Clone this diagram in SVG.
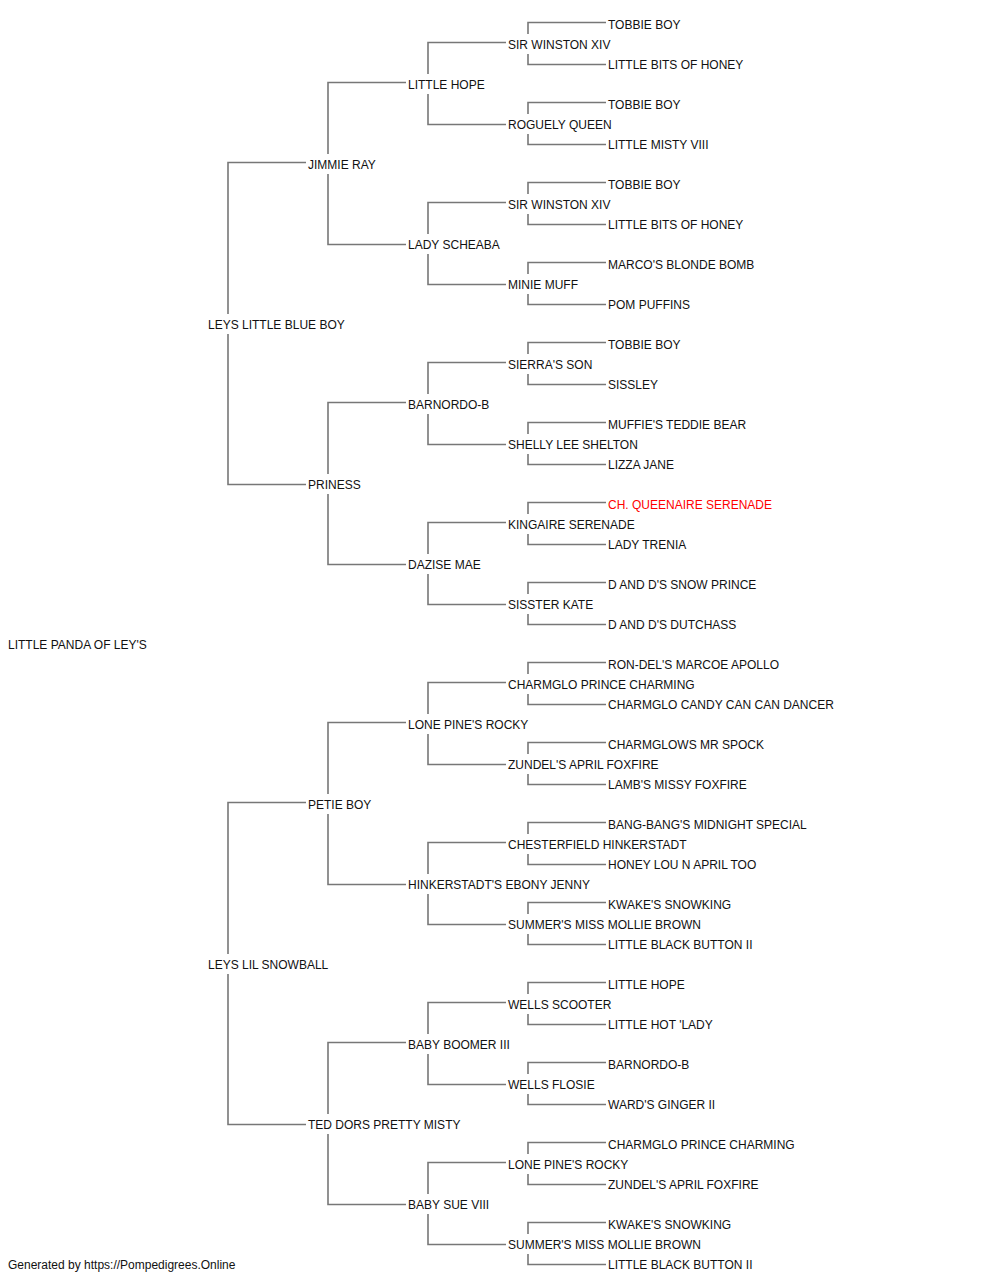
<svg xmlns="http://www.w3.org/2000/svg" width="1000" height="1280" viewBox="0 0 1000 1280">
<style>
text{font-family:"Liberation Sans",Arial,sans-serif;font-size:12px;fill:#111}
text.red{fill:#ff0000}
.c path{fill:none;stroke:#777;stroke-width:1.6}
</style>
<rect width="1000" height="1280" fill="#fff"/>
<g class="c" id="connectors">
<path d="M306,162.5 H228 V314 M228,334 V484.5 H306"/>
<path d="M306,802.5 H228 V954 M228,974 V1124.5 H306"/>
<path d="M406,82.5 H328 V154 M328,174 V244.5 H406"/>
<path d="M406,402.5 H328 V474 M328,494 V564.5 H406"/>
<path d="M406,722.5 H328 V794 M328,814 V884.5 H406"/>
<path d="M406,1042.5 H328 V1114 M328,1134 V1204.5 H406"/>
<path d="M506,42.5 H428 V74 M428,94 V124.5 H506"/>
<path d="M506,202.5 H428 V234 M428,254 V284.5 H506"/>
<path d="M506,362.5 H428 V394 M428,414 V444.5 H506"/>
<path d="M506,522.5 H428 V554 M428,574 V604.5 H506"/>
<path d="M506,682.5 H428 V714 M428,734 V764.5 H506"/>
<path d="M506,842.5 H428 V874 M428,894 V924.5 H506"/>
<path d="M506,1002.5 H428 V1034 M428,1054 V1084.5 H506"/>
<path d="M506,1162.5 H428 V1194 M428,1214 V1244.5 H506"/>
<path d="M606,22.5 H528 V34 M528,54 V64.5 H606"/>
<path d="M606,102.5 H528 V114 M528,134 V144.5 H606"/>
<path d="M606,182.5 H528 V194 M528,214 V224.5 H606"/>
<path d="M606,262.5 H528 V274 M528,294 V304.5 H606"/>
<path d="M606,342.5 H528 V354 M528,374 V384.5 H606"/>
<path d="M606,422.5 H528 V434 M528,454 V464.5 H606"/>
<path d="M606,502.5 H528 V514 M528,534 V544.5 H606"/>
<path d="M606,582.5 H528 V594 M528,614 V624.5 H606"/>
<path d="M606,662.5 H528 V674 M528,694 V704.5 H606"/>
<path d="M606,742.5 H528 V754 M528,774 V784.5 H606"/>
<path d="M606,822.5 H528 V834 M528,854 V864.5 H606"/>
<path d="M606,902.5 H528 V914 M528,934 V944.5 H606"/>
<path d="M606,982.5 H528 V994 M528,1014 V1024.5 H606"/>
<path d="M606,1062.5 H528 V1074 M528,1094 V1104.5 H606"/>
<path d="M606,1142.5 H528 V1154 M528,1174 V1184.5 H606"/>
<path d="M606,1222.5 H528 V1234 M528,1254 V1264.5 H606"/>
</g>
<g id="root"><text x="8" y="649">LITTLE PANDA OF LEY'S</text></g>
<g id="g1">
<g id="n-s"><text x="208" y="329">LEYS LITTLE BLUE BOY</text></g>
<g id="n-d"><text x="208" y="969">LEYS LIL SNOWBALL</text></g>
</g>
<g id="g2">
<g id="n-ss"><text x="308" y="169">JIMMIE RAY</text></g>
<g id="n-sd"><text x="308" y="489">PRINESS</text></g>
<g id="n-ds"><text x="308" y="809">PETIE BOY</text></g>
<g id="n-dd"><text x="308" y="1129">TED DORS PRETTY MISTY</text></g>
</g>
<g id="g3">
<g id="n3-1"><text x="408" y="89">LITTLE HOPE</text></g>
<g id="n3-2"><text x="408" y="249">LADY SCHEABA</text></g>
<g id="n3-3"><text x="408" y="409">BARNORDO-B</text></g>
<g id="n3-4"><text x="408" y="569">DAZISE MAE</text></g>
<g id="n3-5"><text x="408" y="729">LONE PINE'S ROCKY</text></g>
<g id="n3-6"><text x="408" y="889">HINKERSTADT'S EBONY JENNY</text></g>
<g id="n3-7"><text x="408" y="1049">BABY BOOMER III</text></g>
<g id="n3-8"><text x="408" y="1209">BABY SUE VIII</text></g>
</g>
<g id="g4">
<g id="n4-1"><text x="508" y="49">SIR WINSTON XIV</text></g>
<g id="n4-2"><text x="508" y="129">ROGUELY QUEEN</text></g>
<g id="n4-3"><text x="508" y="209">SIR WINSTON XIV</text></g>
<g id="n4-4"><text x="508" y="289">MINIE MUFF</text></g>
<g id="n4-5"><text x="508" y="369">SIERRA'S SON</text></g>
<g id="n4-6"><text x="508" y="449">SHELLY LEE SHELTON</text></g>
<g id="n4-7"><text x="508" y="529">KINGAIRE SERENADE</text></g>
<g id="n4-8"><text x="508" y="609">SISSTER KATE</text></g>
<g id="n4-9"><text x="508" y="689">CHARMGLO PRINCE CHARMING</text></g>
<g id="n4-10"><text x="508" y="769">ZUNDEL'S APRIL FOXFIRE</text></g>
<g id="n4-11"><text x="508" y="849">CHESTERFIELD HINKERSTADT</text></g>
<g id="n4-12"><text x="508" y="929">SUMMER'S MISS MOLLIE BROWN</text></g>
<g id="n4-13"><text x="508" y="1009">WELLS SCOOTER</text></g>
<g id="n4-14"><text x="508" y="1089">WELLS FLOSIE</text></g>
<g id="n4-15"><text x="508" y="1169">LONE PINE'S ROCKY</text></g>
<g id="n4-16"><text x="508" y="1249">SUMMER'S MISS MOLLIE BROWN</text></g>
</g>
<g id="g5">
<g id="n5-1"><text x="608" y="29">TOBBIE BOY</text></g>
<g id="n5-2"><text x="608" y="69">LITTLE BITS OF HONEY</text></g>
<g id="n5-3"><text x="608" y="109">TOBBIE BOY</text></g>
<g id="n5-4"><text x="608" y="149">LITTLE MISTY VIII</text></g>
<g id="n5-5"><text x="608" y="189">TOBBIE BOY</text></g>
<g id="n5-6"><text x="608" y="229">LITTLE BITS OF HONEY</text></g>
<g id="n5-7"><text x="608" y="269">MARCO'S BLONDE BOMB</text></g>
<g id="n5-8"><text x="608" y="309">POM PUFFINS</text></g>
<g id="n5-9"><text x="608" y="349">TOBBIE BOY</text></g>
<g id="n5-10"><text x="608" y="389">SISSLEY</text></g>
<g id="n5-11"><text x="608" y="429">MUFFIE'S TEDDIE BEAR</text></g>
<g id="n5-12"><text x="608" y="469">LIZZA JANE</text></g>
<g id="n5-13"><text class="red" x="608" y="509">CH. QUEENAIRE SERENADE</text></g>
<g id="n5-14"><text x="608" y="549">LADY TRENIA</text></g>
<g id="n5-15"><text x="608" y="589">D AND D'S SNOW PRINCE</text></g>
<g id="n5-16"><text x="608" y="629">D AND D'S DUTCHASS</text></g>
<g id="n5-17"><text x="608" y="669">RON-DEL'S MARCOE APOLLO</text></g>
<g id="n5-18"><text x="608" y="709">CHARMGLO CANDY CAN CAN DANCER</text></g>
<g id="n5-19"><text x="608" y="749">CHARMGLOWS MR SPOCK</text></g>
<g id="n5-20"><text x="608" y="789">LAMB'S MISSY FOXFIRE</text></g>
<g id="n5-21"><text x="608" y="829">BANG-BANG'S MIDNIGHT SPECIAL</text></g>
<g id="n5-22"><text x="608" y="869">HONEY LOU N APRIL TOO</text></g>
<g id="n5-23"><text x="608" y="909">KWAKE'S SNOWKING</text></g>
<g id="n5-24"><text x="608" y="949">LITTLE BLACK BUTTON II</text></g>
<g id="n5-25"><text x="608" y="989">LITTLE HOPE</text></g>
<g id="n5-26"><text x="608" y="1029">LITTLE HOT 'LADY</text></g>
<g id="n5-27"><text x="608" y="1069">BARNORDO-B</text></g>
<g id="n5-28"><text x="608" y="1109">WARD'S GINGER II</text></g>
<g id="n5-29"><text x="608" y="1149">CHARMGLO PRINCE CHARMING</text></g>
<g id="n5-30"><text x="608" y="1189">ZUNDEL'S APRIL FOXFIRE</text></g>
<g id="n5-31"><text x="608" y="1229">KWAKE'S SNOWKING</text></g>
<g id="n5-32"><text x="608" y="1269">LITTLE BLACK BUTTON II</text></g>
</g>
<text x="8" y="1269">Generated by https://Pompedigrees.Online</text>
</svg>
